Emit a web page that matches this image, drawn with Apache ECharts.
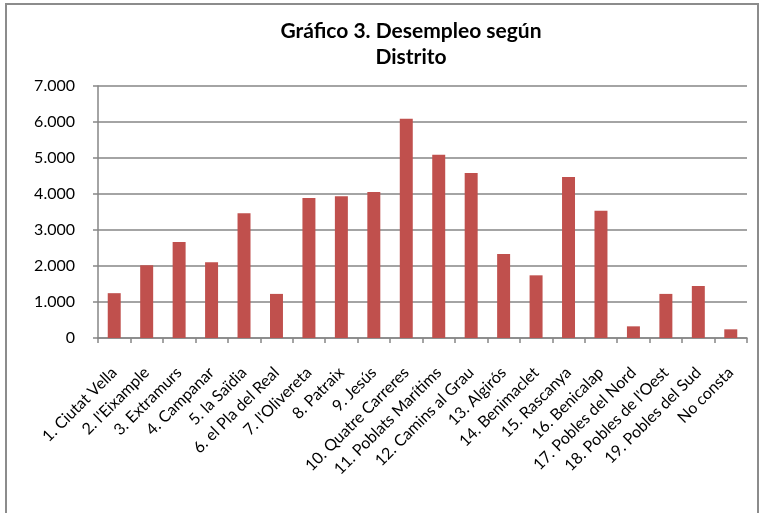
<!DOCTYPE html>
<html>
<head>
<meta charset="utf-8">
<script src="https://cdn.jsdelivr.net/npm/echarts@6/dist/echarts.min.js"></script>
<style>
  html, body { margin: 0; padding: 0; background: #fff; }
  #chart { width: 764px; height: 513px; }
</style>
</head>
<body>
<div id="chart"></div>
<script>
// Desempleo por distrito
var distritos = [
  '1. Ciutat Vella', "2. l'Eixample", '3. Extramurs', '4. Campanar', '5. la Saïdia',
  '6. el Pla del Real', "7. l'Olivereta", '8. Patraix', '9. Jesús', '10. Quatre Carreres',
  '11. Poblats Marítims', '12. Camins al Grau', '13. Algirós', '14. Benimaclet', '15. Rascanya',
  '16. Benicalap', '17. Pobles del Nord', "18. Pobles de l'Oest", '19. Pobles del Sud', 'No consta'
];
var desempleo = [
  1245, 2020, 2667, 2102, 3463,
  1225, 3889, 3935, 4055, 6093,
  5093, 4583, 2333, 1741, 4472,
  3537, 324, 1225, 1444, 241
];
var yTicks = [0, 1000, 2000, 3000, 4000, 5000, 6000, 7000];

var FONT = 'Lato, "Open Sans", sans-serif';

function fmtMiles(v) {
  return String(v).replace(/\B(?=(\d{3})+(?!\d))/g, '.');
}

var chart = echarts.init(document.getElementById('chart'));
chart.setOption({
  animation: false,
  graphic: [{
    type: 'rect',
    shape: { x: 6, y: 4, width: 752, height: 530 },
    style: { fill: 'none', stroke: '#8c8c8c', lineWidth: 2 },
    silent: true
  }],
  title: {
    text: 'Gráfico 3. Desempleo según\nDistrito',
    left: 406,
    textAlign: 'center',
    top: 13,
    textStyle: { fontFamily: FONT, fontSize: 21, fontWeight: 'bold', color: '#000', lineHeight: 26 }
  },
  grid: { left: 98, right: 17, top: 86, bottom: 175 },
  xAxis: {
    type: 'category',
    data: distritos,
    axisLine: { lineStyle: { color: '#868686', width: 1.5 } },
    axisTick: { show: true, length: 5, lineStyle: { color: '#868686', width: 1.5 } },
    axisLabel: {
      interval: 0, rotate: 45, margin: 32,
      fontFamily: FONT, fontSize: 16, color: '#000'
    }
  },
  yAxis: {
    type: 'value',
    min: yTicks[0],
    max: yTicks[yTicks.length - 1],
    interval: 1000,
    axisLine: { show: true, lineStyle: { color: '#868686', width: 1.5 } },
    axisTick: { show: true, length: 5, lineStyle: { color: '#868686', width: 1.5 } },
    splitLine: { lineStyle: { color: '#868686', width: 1.5 } },
    axisLabel: {
      margin: 23, fontFamily: FONT, fontSize: 16, color: '#000',
      formatter: fmtMiles
    }
  },
  series: [{
    type: 'bar',
    data: desempleo,
    barWidth: '40%',
    itemStyle: { color: '#C0504D' }
  }]
});
</script>
</body>
</html>
